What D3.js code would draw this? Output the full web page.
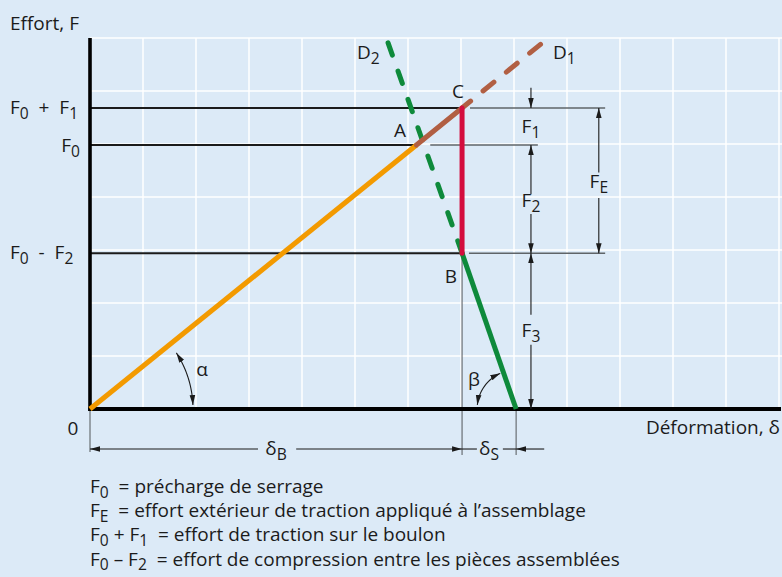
<!DOCTYPE html>
<html><head><meta charset="utf-8">
<script src="https://cdn.jsdelivr.net/npm/d3@7"></script>
<style>
html,body{margin:0;padding:0;background:#dceaf7;}
svg{display:block;font-family:"Open Sans",sans-serif;}
svg text{white-space:pre;}
</style></head>
<body><svg id="c" width="782" height="577"></svg>
<script>
// ---- data (in diagram units: deformation / force) ----
const forceLabels = ["F_0  +  F_1", "F_0", "F_0  -  F_2"];
const forceValues = [5.68, 4.98, 2.94];
const deltaB = 7.02, deltaS = 1.02;
const pointA = [6.16, 4.98];
const pointC = [7.02, 5.68];
const pointB = [7.02, 2.94];
const boltSolid = [[0, 0], [6.16, 4.98]];
const boltLoaded = [[6.16, 4.98], [7.02, 5.68]];
const boltExt = [[7.02, 5.68], [8.50, 6.88]];
const jointDashed = [[5.62, 6.92], [7.02, 2.94]];
const jointSolid = [[7.02, 2.94], [8.04, 0]];
const loadLine = [[7.02, 5.68], [7.02, 2.94]];
const legendLines = [
  "F_0  = précharge de serrage",
  "F_E  = effort extérieur de traction appliqué à l’assemblage",
  "F_0 + F_1  = effort de traction sur le boulon",
  "F_0 – F_2  = effort de compression entre les pièces assemblées"
];

const svg = d3.select("#c");
const x = d3.scaleLinear().domain([0, 13]).range([90, 779]);
const y = d3.scaleLinear().domain([0, 7]).range([409, 38]);
const INK = "#1b1b1b", GREY = "#5f6468";
const FS = 19;

// background
svg.append("rect").attr("width", 782).attr("height", 577).attr("fill", "#dceaf7");

// markers
const defs = svg.append("defs");
defs.append("marker").attr("id", "arr").attr("viewBox", "-10 -4 10 8")
  .attr("refX", 0).attr("refY", 0).attr("markerWidth", 10).attr("markerHeight", 8)
  .attr("markerUnits", "userSpaceOnUse").attr("orient", "auto-start-reverse")
  .append("path").attr("d", "M0,0 L-10,-2.8 L-10,2.8 Z").attr("fill", INK);

// grid
const gx = d3.range(1, 14), gy = d3.range(1, 8);
svg.append("g").selectAll("line").data(gx).join("line")
  .attr("x1", d => x(d)).attr("x2", d => x(d)).attr("y1", y(7)).attr("y2", y(0))
  .attr("stroke", "#fff").attr("stroke-width", 1.5);
svg.append("g").selectAll("line").data(gy).join("line")
  .attr("x1", x(0)).attr("x2", 782).attr("y1", d => y(d)).attr("y2", d => y(d))
  .attr("stroke", "#fff").attr("stroke-width", 1.5);

// text helper with subscripts (_X)
function rich(sel, str, size) {
  const parts = str.split(/(_.)/).filter(s => s.length);
  let sub = false;
  parts.forEach(p => {
    if (p[0] === "_") {
      sel.append("tspan").attr("font-size", size * 0.82).attr("dy", size * 0.24).text(p[1]);
      sub = true;
    } else {
      const t = sel.append("tspan").text(p);
      if (sub) { t.attr("dy", -size * 0.24); sub = false; }
    }
  });
  return sel;
}
function label(str, px, py, anchor, size) {
  const s = size || FS;
  const t = svg.append("text").attr("x", px).attr("y", py).attr("fill", INK)
    .attr("font-size", s).attr("text-anchor", anchor || "start");
  rich(t, str, s);
  return t;
}

// horizontal force levels (black) + grey extensions
const levelEnds = [pointC[0], pointA[0], pointB[0]];
svg.append("g").selectAll("line").data(forceValues).join("line")
  .attr("x1", x(0)).attr("x2", (d, i) => x(levelEnds[i]))
  .attr("y1", d => y(d)).attr("y2", d => y(d)).attr("stroke", INK).attr("stroke-width", 2);
const extStart = [7.17, 6.42, 7.15], extEnd = [9.72, 8.45, 9.72];
svg.append("g").selectAll("line").data(forceValues).join("line")
  .attr("x1", (d, i) => x(extStart[i])).attr("x2", (d, i) => x(extEnd[i]))
  .attr("y1", d => y(d)).attr("y2", d => y(d)).attr("stroke", GREY).attr("stroke-width", 1.6);

// extension verticals below axis
const thin = (x1, y1, x2, y2, c) => svg.append("line").attr("x1", x1).attr("y1", y1)
  .attr("x2", x2).attr("y2", y2).attr("stroke", c || INK).attr("stroke-width", 1.1);
thin(x(0), y(0), x(0), y(-0.81), GREY);
thin(x(deltaB), y(pointB[1]), x(deltaB), y(-0.87), GREY);
thin(x(deltaB + deltaS), y(0), x(deltaB + deltaS), y(-0.87), GREY);

// axes
svg.append("line").attr("x1", x(0)).attr("y1", y(7)).attr("x2", x(0)).attr("y2", y(0) + 2)
  .attr("stroke", "#000").attr("stroke-width", 3.6);
svg.append("line").attr("x1", x(0) - 1.8).attr("y1", y(0)).attr("x2", 781).attr("y2", y(0))
  .attr("stroke", "#000").attr("stroke-width", 4);

// data lines
const line = d3.line().x(d => x(d[0])).y(d => y(d[1]));
const GREEN = "#0e8a3b", ORANGE = "#f39a00", BROWN = "#b15f43", RED = "#d40d3d";
svg.append("path").attr("d", line(jointDashed.slice().reverse()))
  .attr("fill", "none").attr("stroke", GREEN).attr("stroke-width", 5)
  .attr("stroke-linecap", "round").attr("stroke-dasharray", "13,17").attr("stroke-dashoffset", 0);
svg.append("path").attr("d", line(boltSolid)).attr("fill", "none")
  .attr("stroke", ORANGE).attr("stroke-width", 5);
svg.append("path").attr("d", line(boltLoaded)).attr("fill", "none")
  .attr("stroke", BROWN).attr("stroke-width", 5).attr("stroke-linecap", "round");
svg.append("path").attr("d", line(boltExt.slice().reverse())).attr("fill", "none")
  .attr("stroke", BROWN).attr("stroke-width", 5).attr("stroke-linecap", "round")
  .attr("stroke-dasharray", "14,16");
svg.append("path").attr("d", line(jointSolid)).attr("fill", "none")
  .attr("stroke", GREEN).attr("stroke-width", 5);
svg.append("path").attr("d", line(loadLine)).attr("fill", "none")
  .attr("stroke", RED).attr("stroke-width", 5).attr("stroke-linecap", "round");

// dimension arrows
const dim = (x1, y1, x2, y2) => svg.append("line").attr("x1", x1).attr("y1", y1)
  .attr("x2", x2).attr("y2", y2).attr("stroke", INK).attr("stroke-width", 1.1)
  .attr("marker-end", "url(#arr)");
const xd = x(8.32), xe = x(9.6);
dim(xd, y(6.06), xd, y(forceValues[0]));
dim(xd, y(4.05), xd, y(forceValues[1]));
dim(xd, y(3.68), xd, y(forceValues[2]));
dim(xd, y(1.78), xd, y(forceValues[2]));
dim(xd, y(1.21), xd, y(0));
dim(xe, y(4.46), xe, y(forceValues[0]));
dim(xe, y(3.98), xe, y(forceValues[2]));
const yd = y(-0.755);
dim(x(3.17), yd, x(0), yd);
dim(x(3.89), yd, x(deltaB), yd);
thin(x(deltaB), yd, x(7.3), yd);
thin(x(7.79), yd, x(deltaB + deltaS), yd);
dim(x(8.57), yd, x(deltaB + deltaS), yd);

// angle arcs
function arcPath(cx, cy, r, a0, a1) {
  const pts = d3.range(0, 1.0001, 0.05).map(t => {
    const a = (a0 + (a1 - a0) * t) * Math.PI / 180;
    return [cx + r * Math.cos(a), cy - r * Math.sin(a)];
  });
  return d3.line()(pts);
}
svg.append("path").attr("d", arcPath(x(0), y(0), 103, 33, 2.2)).attr("fill", "none")
  .attr("stroke", INK).attr("stroke-width", 1.1)
  .attr("marker-start", "url(#arr)").attr("marker-end", "url(#arr)");
svg.append("path").attr("d", arcPath(x(deltaB + deltaS), y(0), 39, 114, 174)).attr("fill", "none")
  .attr("stroke", INK).attr("stroke-width", 1.1)
  .attr("marker-start", "url(#arr)").attr("marker-end", "url(#arr)");

// labels
label("Effort, F", 10, 30, "start");
label(forceLabels[0], 10, y(forceValues[0]) + 6, "start");
label(forceLabels[1], 80, y(forceValues[1]) + 7, "end");
label(forceLabels[2], 10, y(forceValues[2]) + 6, "start");
label("0", 73, 435, "middle");
label("Déformation, δ", 780, 434, "end");
label("A", 400, 137, "middle");
label("C", 458, 98, "middle");
label("B", 451, 283, "middle");
label("D_2", 357, 59, "start");
label("D_1", 553, 59, "start");
label("F_1", xd, 133, "middle");
label("F_2", xd, 207, "middle");
label("F_3", xd, 337, "middle");
label("F_E", xe, 188, "middle");
label("δ_B", (x(0) + x(deltaB)) / 2, 455, "middle");
label("δ_S", (x(deltaB) + x(deltaB + deltaS)) / 2, 455, "middle");
label("α", 202, 376, "middle");
label("β", 474, 386, "middle");

// legend
legendLines.forEach((s, i) => label(s, 90, 493 + i * 24.2, "start"));
</script></body></html>
